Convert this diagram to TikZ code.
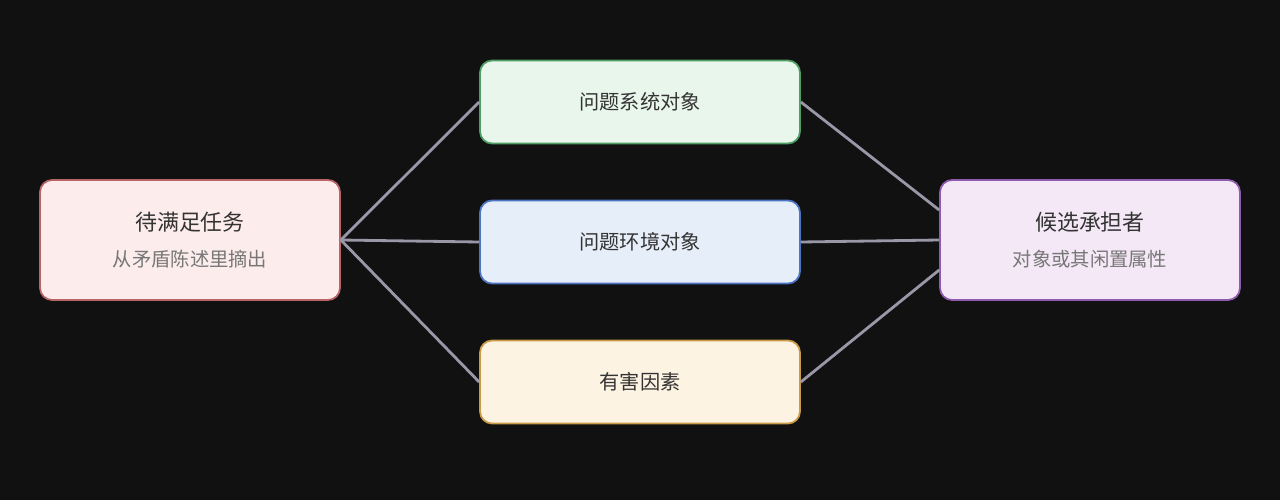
\documentclass[tikz,border=0pt]{standalone}
\usepackage{fontspec}
\setmainfont{Noto Sans CJK SC}
\usepackage{xcolor}
\usetikzlibrary{positioning}
\definecolor{bgc}{HTML}{111111}
\definecolor{linec}{HTML}{9A98A8}
\definecolor{txtc}{HTML}{333333}
\definecolor{subc}{HTML}{777777}
\definecolor{redf}{HTML}{FDECEC}\definecolor{redd}{HTML}{B86468}
\definecolor{grnf}{HTML}{E8F6EC}\definecolor{grnd}{HTML}{4E9E64}
\definecolor{bluf}{HTML}{E6EEF9}\definecolor{blud}{HTML}{4D74C0}
\definecolor{yelf}{HTML}{FDF3E2}\definecolor{yeld}{HTML}{C99A48}
\definecolor{purf}{HTML}{F4E8F6}\definecolor{purd}{HTML}{8E5BAF}
\newcommand{\subtxt}[1]{{\color{subc}\fontsize{11}{14}\selectfont #1}}
\tikzset{
  box/.style={draw, line width=1pt, rounded corners=0.24cm, align=center, text=txtc},
  side/.style={box, minimum width=6cm, minimum height=2.4cm, font=\fontsize{12.5}{18}\selectfont},
  mid/.style={box, minimum width=6.4cm, minimum height=1.66cm, font=\fontsize{11.5}{14}\selectfont},
  link/.style={draw=linec, line width=1.6pt}
}
\begin{document}
\begin{tikzpicture}[x=0.02cm, y=-0.02cm]
        \fill[bgc] (0,0) rectangle (1280,500);
        % Outer boxes
        \node[side, fill=redf, draw=redd] (task) at (190,240) {待满足任务\\[2pt]\subtxt{从矛盾陈述里摘出}};
        \node[side, fill=purf, draw=purd] (cand) at (1090,240) {候选承担者\\[2pt]\subtxt{对象或其闲置属性}};
        % Middle column
        \node[mid, fill=grnf, draw=grnd] (sys) at (640,102) {问题系统对象};
        \node[mid, fill=bluf, draw=blud] (env) at (640,242) {问题环境对象};
        \node[mid, fill=yelf, draw=yeld] (harm) at (640,382) {有害因素};
        % Links
        \foreach \m in {sys, env, harm}
            \draw[link] (task.east) -- (\m.west);
        \draw[link] (sys.east) -- ([yshift=0.6cm]cand.west);
        \draw[link] (env.east) -- (cand.west);
        \draw[link] (harm.east) -- ([yshift=-0.6cm]cand.west);
    \end{tikzpicture}
\end{document}
